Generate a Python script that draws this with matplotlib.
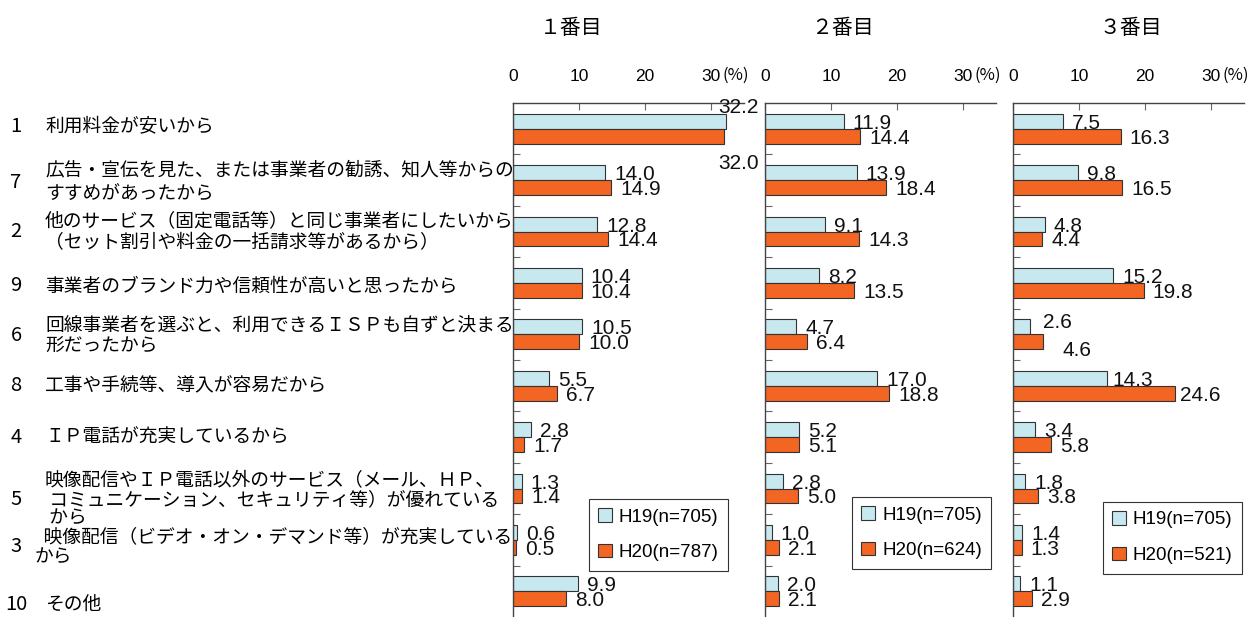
import matplotlib
matplotlib.use('Agg')
import matplotlib.pyplot as plt
import matplotlib.transforms as mtransforms
from matplotlib.patches import Patch
import numpy as np

# フォント設定
plt.rcParams['font.family'] = ['Noto Sans CJK JP', 'DejaVu Sans']

# データ（上から順に）
item_no = ['1', '7', '2', '9', '6', '8', '4', '5', '3', '10']
item_text = [
    '利用料金が安いから',
    '広告・宣伝を見た、または事業者の勧誘、知人等からの\nすすめがあったから',
    '他のサービス（固定電話等）と同じ事業者にしたいから\n（セット割引や料金の一括請求等があるから）',
    '事業者のブランド力や信頼性が高いと思ったから',
    '回線事業者を選ぶと、利用できるＩＳＰも自ずと決まる\n形だったから',
    '工事や手続等、導入が容易だから',
    'ＩＰ電話が充実しているから',
    '映像配信やＩＰ電話以外のサービス（メール、ＨＰ、\n コミュニケーション、セキュリティ等）が優れている\n から',
    '  映像配信（ビデオ・オン・デマンド等）が充実している\nから',
    'その他',
]
text_x = [45, 45, 45, 45, 45, 45, 45, 45, 35, 45]      # ラベル開始位置(px)
text_dy = [-2, 2, 0, 3, 1, 0, 0, 11, 7, 13]            # ラベルの上下ずれ(px)
text_ls = [1.0, 1.15, 1.05, 1.0, 0.95, 1.0, 1.0, 0.86, 0.95, 1.0]

panel_titles = ['１番目', '２番目', '３番目']
title_x = [571, 842, 1131]

h19_1 = [32.2, 14.0, 12.8, 10.4, 10.5, 5.5, 2.8, 1.3, 0.6, 9.9]
h20_1 = [32.0, 14.9, 14.4, 10.4, 10.0, 6.7, 1.7, 1.4, 0.5, 8.0]
h19_2 = [11.9, 13.9, 9.1, 8.2, 4.7, 17.0, 5.2, 2.8, 1.0, 2.0]
h20_2 = [14.4, 18.4, 14.3, 13.5, 6.4, 18.8, 5.1, 5.0, 2.1, 2.1]
h19_3 = [7.5, 9.8, 4.8, 15.2, 2.6, 14.3, 3.4, 1.8, 1.4, 1.1]
h20_3 = [16.3, 16.5, 4.4, 19.8, 4.6, 24.6, 5.8, 3.8, 1.3, 2.9]

legend_h19 = ['H19(n=705)', 'H19(n=705)', 'H19(n=705)']
legend_h20 = ['H20(n=787)', 'H20(n=624)', 'H20(n=521)']

h19_data = [h19_1, h19_2, h19_3]
h20_data = [h20_1, h20_2, h20_3]

c19 = '#C8E8F0'
c20 = '#F26522'
edge = '#333333'

W, H = 1252, 617
fig = plt.figure(figsize=(W / 100, H / 100), dpi=100)

ax_left = [513, 765, 1013]
ax_w = 231
ax_top = 103
legend_pos = [(589, 499), (852, 497), (1103, 502)]

# 値ラベルの個別ずれ (パネル, 項目, 系列) -> (dx, dy) px
label_shift = {
    (0, 0, 0): (-7, -14),
    (0, 0, 1): (-6, 27),
    (2, 4, 0): (13, -4),
    (2, 4, 1): (19, 9),
    (2, 5, 0): (5, 2),
    (2, 5, 1): (5, 2),
}

px = 0.72  # 1px -> pt
y = np.arange(len(item_no))
bh = 0.29
num_font = ['Liberation Sans', 'DejaVu Sans']

axes = []
for p in range(3):
    ax = fig.add_axes([ax_left[p] / W, 0, ax_w / W, (H - ax_top) / H])
    axes.append(ax)
    ax.barh(y - bh / 2, h19_data[p], height=bh, color=c19, edgecolor=edge, linewidth=0.8)
    ax.barh(y + bh / 2, h20_data[p], height=bh, color=c20, edgecolor=edge, linewidth=0.8)
    ax.set_xlim(0, 35)
    ax.set_ylim(len(item_no) - 0.5, -0.5)

    # 数値ラベル
    for s, vals in enumerate([h19_data[p], h20_data[p]]):
        for i, v in enumerate(vals):
            dx, dy = label_shift.get((p, i, s), (9, 2))
            ax.annotate(f'{v:.1f}', xy=(v, y[i] + (bh / 2 if s else -bh / 2)),
                        xytext=(dx * px, -dy * px), textcoords='offset points',
                        ha='left', va='center', fontsize=15,
                        family=num_font, color='#111111')

    # 軸の体裁
    ax.xaxis.tick_top()
    ax.set_xticks([0, 10, 20, 30])
    ax.set_xticklabels(['0', '10', '20', '30'], family=num_font)
    ax.tick_params(axis='x', direction='in', length=5, color='#666666', labelsize=12.5, pad=14)
    ax.set_yticks(np.arange(0.5, len(item_no) - 0.5, 1.0))
    ax.set_yticklabels([])
    ax.tick_params(axis='y', direction='in', length=5, color='#666666')
    for side in ['right', 'bottom']:
        ax.spines[side].set_visible(False)
    for side in ['left', 'top']:
        ax.spines[side].set_color('#444444')
        ax.spines[side].set_linewidth(1.0)
    ax.annotate('(%)', xy=(30, 1), xycoords=('data', 'axes fraction'),
                xytext=(11 * px, 28 * px), textcoords='offset points',
                ha='left', va='center', fontsize=12)

    fig.text(title_x[p] / W, 1 - 28 / H, panel_titles[p], ha='center', va='center', fontsize=15)

    # 凡例
    lx, ly = legend_pos[p]
    handles = [Patch(facecolor=c19, edgecolor=edge, linewidth=0.8),
               Patch(facecolor=c20, edgecolor=edge, linewidth=0.8)]
    leg = fig.legend(handles, [legend_h19[p], legend_h20[p]], loc='upper left',
                     bbox_to_anchor=(lx / W, 1 - ly / H), borderaxespad=0,
                     handlelength=0.7, handleheight=0.7, handletextpad=0.4,
                     labelspacing=1.0, borderpad=0.5,
                     fancybox=False, framealpha=1,
                     prop={'family': num_font, 'size': 13.5})
    leg.get_frame().set_edgecolor('#333333')
    leg.get_frame().set_linewidth(0.8)

# 項目ラベル
trans = mtransforms.blended_transform_factory(fig.transFigure, axes[0].transData)
ax0 = axes[0]
for i in range(len(item_no)):
    ax0.annotate(item_no[i], xy=(16 / W, y[i]), xycoords=trans,
                 xytext=(0, -text_dy[i] * px), textcoords='offset points',
                 ha='center', va='center', fontsize=14.5, annotation_clip=False)
    ax0.annotate(item_text[i], xy=(text_x[i] / W, y[i]), xycoords=trans,
                 xytext=(0, -text_dy[i] * px), textcoords='offset points',
                 ha='left', va='center', fontsize=13.5, linespacing=text_ls[i],
                 annotation_clip=False)

fig.savefig('out.png', dpi=100)
